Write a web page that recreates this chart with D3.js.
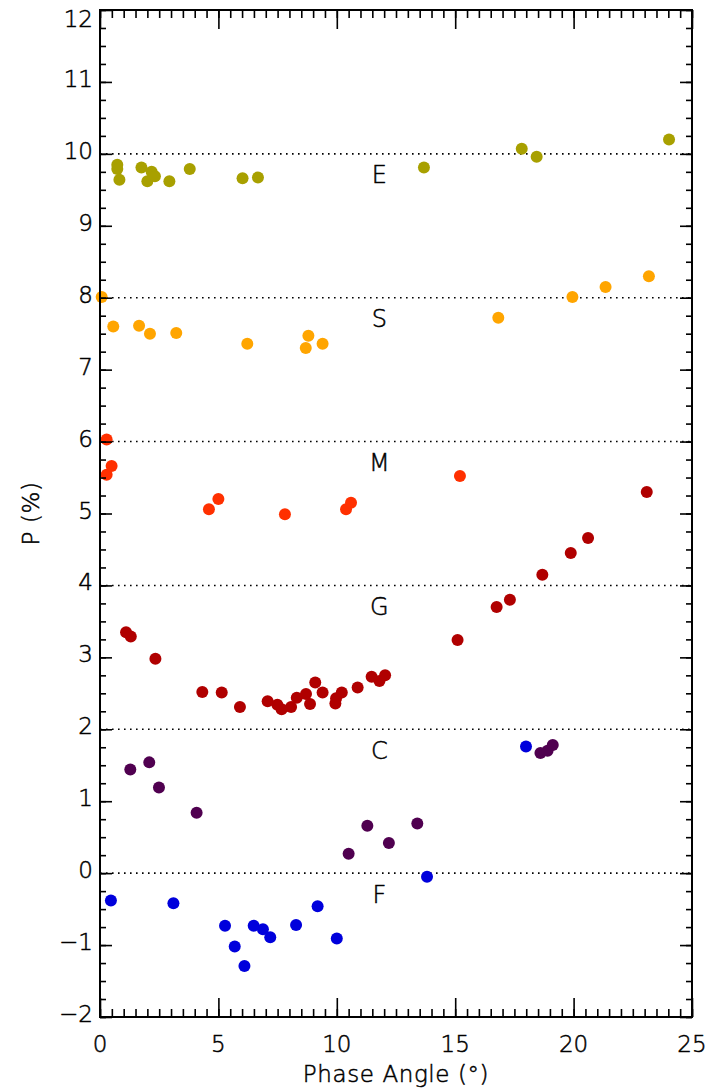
<!DOCTYPE html>
<html>
<head>
<meta charset="utf-8">
<script src="https://cdn.jsdelivr.net/npm/d3@7"></script>
<style>
  body { margin: 0; background: #fff; }
  text { font-family: "DejaVu Sans", sans-serif; font-weight: 200; fill: #000; stroke: #000; stroke-width: 0.5px; }
</style>
</head>
<body>
<div id="chart"></div>
<script>
// chart size and margins
const width = 714;
const height = 1091;
const margin = { left: 100, right: 22, top: 10, bottom: 74 };

// series: phase angle (deg) and polarization P (%)
const eX = [0.73, 0.73, 0.82, 1.75, 2.0, 2.18, 2.32, 2.93, 3.79, 6.02, 6.67, 13.68, 17.81, 18.44, 24.03];
const eY = [9.85, 9.79, 9.64, 9.81, 9.62, 9.75, 9.69, 9.62, 9.79, 9.66, 9.67, 9.81, 10.07, 9.96, 10.20];

const sX = [0.07, 0.56, 1.65, 2.11, 3.22, 6.22, 8.69, 8.80, 9.40, 16.82, 19.95, 21.35, 23.18];
const sY = [8.01, 7.60, 7.61, 7.50, 7.51, 7.36, 7.30, 7.47, 7.36, 7.72, 8.01, 8.15, 8.30];

const mX = [0.28, 0.28, 0.49, 4.60, 5.00, 7.81, 10.39, 10.60, 15.20];
const mY = [6.03, 5.54, 5.66, 5.06, 5.20, 4.99, 5.06, 5.15, 5.52];

const gX = [1.10, 1.30, 2.34, 4.32, 5.14, 5.91, 7.08, 7.49, 7.67, 8.07, 8.31, 8.70, 8.87, 9.09, 9.40,
            9.94, 9.97, 10.21, 10.88, 11.47, 11.80, 12.04, 15.10, 16.75, 17.31, 18.68, 19.88, 20.61, 23.09];
const gY = [3.35, 3.29, 2.98, 2.52, 2.51, 2.31, 2.39, 2.34, 2.28, 2.31, 2.44, 2.49, 2.35, 2.65, 2.51,
            2.36, 2.43, 2.51, 2.58, 2.73, 2.67, 2.75, 3.24, 3.70, 3.80, 4.15, 4.45, 4.66, 5.30];

const cX = [1.28, 2.08, 2.49, 4.08, 10.50, 11.29, 12.20, 13.40, 18.60, 18.90, 19.12];
const cY = [1.44, 1.54, 1.19, 0.84, 0.27, 0.66, 0.42, 0.69, 1.67, 1.70, 1.78];

const fX = [0.46, 3.10, 5.28, 5.69, 6.10, 6.49, 6.88, 7.19, 8.28, 9.19, 10.0, 13.81, 17.99];
const fY = [-0.38, -0.42, -0.73, -1.02, -1.29, -0.73, -0.78, -0.89, -0.72, -0.46, -0.91, -0.05, 1.76];

// group labels, their reference lines (P offset) and colours
const groupNames = ["E", "S", "M", "G", "C", "F"];
const groupLines = [10, 8, 6, 4, 2, 0];
const groupColors = ["#a8a000", "#ffa500", "#ff3000", "#b00000", "#500050", "#0000dc"];
const groupX = [eX, sX, mX, gX, cX, fX];
const groupY = [eY, sY, mY, gY, cY, fY];

const xTicks = [0, 5, 10, 15, 20, 25];
const yTicks = d3.range(-2, 13, 1);

const svg = d3.select("#chart")
  .append("svg")
  .attr("width", width)
  .attr("height", height);

const xScale = d3.scaleLinear()
  .domain([0, 25])
  .range([margin.left, width - margin.right]);

const yScale = d3.scaleLinear()
  .domain([-2, 12])
  .range([height - margin.bottom, margin.top]);

const x0 = margin.left, x1 = width - margin.right;
const y0 = height - margin.bottom, y1 = margin.top;

// dotted reference lines
svg.selectAll(".ref")
  .data(groupLines)
  .enter()
  .append("line")
  .attr("x1", x0)
  .attr("x2", x1)
  .attr("y1", d => yScale(d))
  .attr("y2", d => yScale(d))
  .attr("stroke", "#000")
  .attr("stroke-width", 1.6)
  .attr("stroke-dasharray", "1.6,4.4");

// group letters
svg.selectAll(".glabel")
  .data(groupNames)
  .enter()
  .append("text")
  .attr("x", xScale(11.8))
  .attr("y", (d, i) => yScale(groupLines[i] - 0.3))
  .attr("text-anchor", "middle")
  .attr("dominant-baseline", "central")
  .attr("font-size", "24px")
  .text(d => d);

// points
groupNames.forEach((name, i) => {
  svg.append("g")
    .selectAll("circle")
    .data(groupX[i].map((x, j) => ({ x: x, y: groupY[i][j] })))
    .enter()
    .append("circle")
    .attr("cx", d => xScale(d.x))
    .attr("cy", d => yScale(d.y))
    .attr("r", 6)
    .attr("fill", groupColors[i]);
});

// axes with major and minor ticks, mirrored on top and right
function xAxis(gen, major) {
  return gen(xScale).tickValues(major ? xTicks : d3.range(0, 25.01, 0.5))
    .tickSizeInner(major ? 19 : 8).tickSizeOuter(0).tickFormat("");
}
function yAxis(gen, major) {
  return gen(yScale).tickValues(major ? yTicks : d3.range(-2, 12.01, 0.25))
    .tickSizeInner(major ? 12 : 6).tickSizeOuter(0).tickFormat("");
}

[false, true].forEach(major => {
  // ticks point inward from each side of the frame
  svg.append("g")
    .attr("transform", `translate(0,${y0})`)
    .call(xAxis(d3.axisTop, major));
  svg.append("g")
    .attr("transform", `translate(0,${y1})`)
    .call(xAxis(d3.axisBottom, major));
  svg.append("g")
    .attr("transform", `translate(${x0},0)`)
    .call(yAxis(d3.axisRight, major));
  svg.append("g")
    .attr("transform", `translate(${x1},0)`)
    .call(yAxis(d3.axisLeft, major));
});
svg.selectAll(".domain").remove();
svg.selectAll(".tick line").attr("stroke", "#000").attr("stroke-width", 1.6);

// frame
svg.append("rect")
  .attr("x", x0)
  .attr("y", y1)
  .attr("width", x1 - x0)
  .attr("height", y0 - y1)
  .attr("fill", "none")
  .attr("stroke", "#000")
  .attr("stroke-width", 2);

// tick labels
svg.selectAll(".xl")
  .data(xTicks)
  .enter()
  .append("text")
  .attr("x", d => xScale(d))
  .attr("y", y0 + 35)
  .attr("text-anchor", "middle")
  .attr("font-size", "23px")
  .text(d => d);

svg.selectAll(".yl")
  .data(yTicks)
  .enter()
  .append("text")
  .attr("x", x0 - 7)
  .attr("y", d => Math.max(yScale(d) - 3, 19))
  .attr("text-anchor", "end")
  .attr("dominant-baseline", "central")
  .attr("font-size", "23px")
  .text(d => d < 0 ? "\u2212" + Math.abs(d) : d);

// axis titles
svg.append("text")
  .attr("x", (x0 + x1) / 2)
  .attr("y", 1082)
  .attr("text-anchor", "middle")
  .attr("font-size", "23px")
  .attr("letter-spacing", "0.6px")
  .text("Phase Angle (\u00b0)");

svg.append("text")
  .attr("transform", `translate(39,${(y0 + y1) / 2}) rotate(-90)`)
  .attr("text-anchor", "middle")
  .attr("font-size", "23px")
  .attr("letter-spacing", "0.6px")
  .text("P (%)");
</script>
</body>
</html>
